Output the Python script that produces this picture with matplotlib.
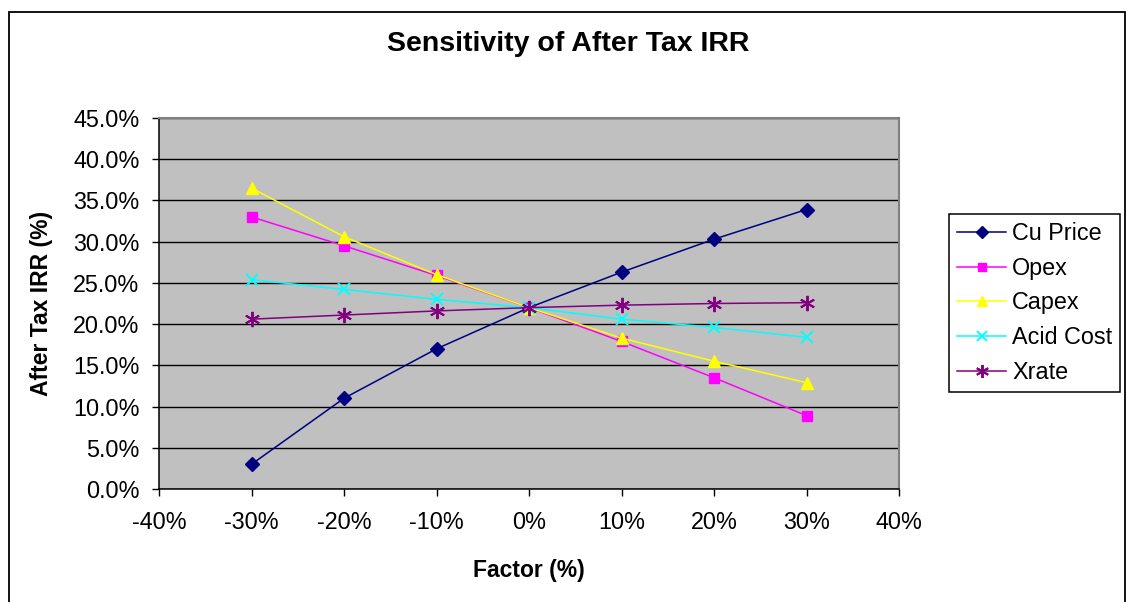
import matplotlib
matplotlib.use("Agg")
import matplotlib.pyplot as plt
from matplotlib.patches import Rectangle
from matplotlib.ticker import FuncFormatter, MultipleLocator

# Sensitivity factors (%) and the resulting after-tax IRR (%)
factor = [-30, -20, -10, 0, 10, 20, 30]
cu_price = [3.0, 11.0, 17.0, 22.0, 26.3, 30.3, 33.9]
opex = [33.0, 29.5, 25.9, 22.0, 17.9, 13.5, 8.9]
capex = [36.5, 30.6, 26.0, 22.0, 18.3, 15.5, 12.9]
acid_cost = [25.4, 24.2, 23.0, 22.0, 20.6, 19.6, 18.4]
xrate = [20.6, 21.1, 21.6, 22.0, 22.3, 22.5, 22.6]

plt.rcParams["font.family"] = ["Liberation Sans", "DejaVu Sans"]

fig = plt.figure(figsize=(11.26, 6.02), dpi=100)
ax = fig.add_axes([159 / 1126, 1 - 489 / 602, 740 / 1126, 371 / 602])
ax.set_facecolor("#C0C0C0")

# outer chart frame
fig.patches.append(Rectangle((9 / 1126, -0.02), 1116 / 1126, 1.01 - 6 / 602,
                             transform=fig.transFigure, fill=False,
                             edgecolor="black", linewidth=1.3))

ax.plot(factor, cu_price, color="#000080", marker="D", markersize=7.5, lw=1.1, label="Cu Price")
ax.plot(factor, opex, color="#FF00FF", marker="s", markersize=7.5, lw=1.1, label="Opex")
ax.plot(factor, capex, color="#FFFF00", marker="^", markersize=9, lw=1.1, label="Capex")
ax.plot(factor, acid_cost, color="#00FFFF", marker="x", markersize=9, mew=1.4, lw=1.1, label="Acid Cost")
ax.plot(factor, xrate, color="#800080", marker=(6, 2, 0), markersize=11, mew=1.4, lw=1.1, label="Xrate")

ax.set_xlim(-40, 40)
ax.set_ylim(0, 45)
ax.xaxis.set_major_locator(MultipleLocator(10))
ax.yaxis.set_major_locator(MultipleLocator(5))
ax.xaxis.set_major_formatter(FuncFormatter(lambda v, p: "%d%%" % round(v)))
ax.yaxis.set_major_formatter(FuncFormatter(lambda v, p: "%.1f%%" % v))
ax.tick_params(axis="both", labelsize=16.8, length=5, width=1, direction="out")
ax.tick_params(axis="x", pad=11)
ax.tick_params(axis="y", pad=9)

ax.yaxis.grid(True, color="black", linewidth=1)
ax.set_axisbelow(True)

for side in ["left", "bottom"]:
    ax.spines[side].set_color("black")
    ax.spines[side].set_linewidth(1.1)
for side in ["top", "right"]:
    ax.spines[side].set_color("#808080")
    ax.spines[side].set_linewidth(1.5)

fig.text(568 / 1126, 1 - 44 / 602, "Sensitivity of After Tax IRR", fontsize=20.5,
         fontweight="bold", ha="center", va="center")
ax.set_xlabel("Factor (%)", fontsize=16.5, fontweight="bold")
ax.xaxis.set_label_coords(0.5, -0.19)
ax.set_ylabel("After Tax IRR (%)", fontsize=16.5, fontweight="bold")
ax.yaxis.set_label_coords(-0.143, 0.5)

leg = ax.legend(loc="upper left", bbox_to_anchor=(949 / 1126, 1 - 214 / 602),
                bbox_transform=fig.transFigure, borderaxespad=0, fontsize=16.8,
                fancybox=False, framealpha=1, edgecolor="black",
                handlelength=2.1, handletextpad=0.25, labelspacing=0.5,
                borderpad=0.35, markerscale=0.85)
leg.get_frame().set_linewidth(1.1)

fig.savefig("out.png", dpi=100)
